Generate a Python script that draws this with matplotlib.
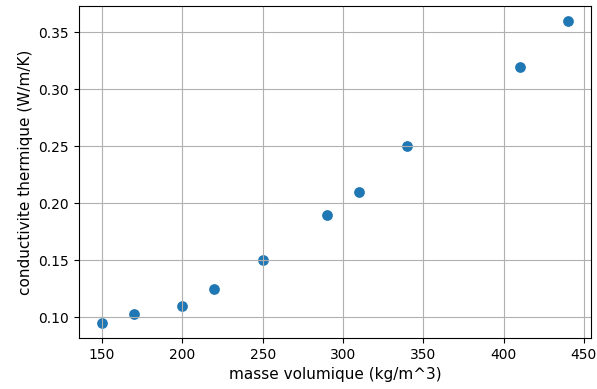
import numpy as np
import matplotlib
matplotlib.use('Agg')
import matplotlib.pyplot as plt

# masse volumique (kg/m^3) et conductivite thermique (W/m/K)
rho = [150, 170, 200, 220, 250, 290, 310, 340, 410, 440]
lam = [0.095, 0.103, 0.110, 0.125, 0.150, 0.190, 0.210, 0.250, 0.320, 0.360]

fig = plt.figure(figsize=(5.97, 3.89), dpi=100)
ax = fig.add_axes([0.132, 0.131, 0.858, 0.854])
ax.scatter(rho, lam, s=45)
ax.set_xlabel('masse volumique (kg/m^3)', fontsize=11)
ax.set_ylabel('conductivite thermique (W/m/K)', fontsize=11)
ax.grid()
fig.savefig('out.png', dpi=100)
